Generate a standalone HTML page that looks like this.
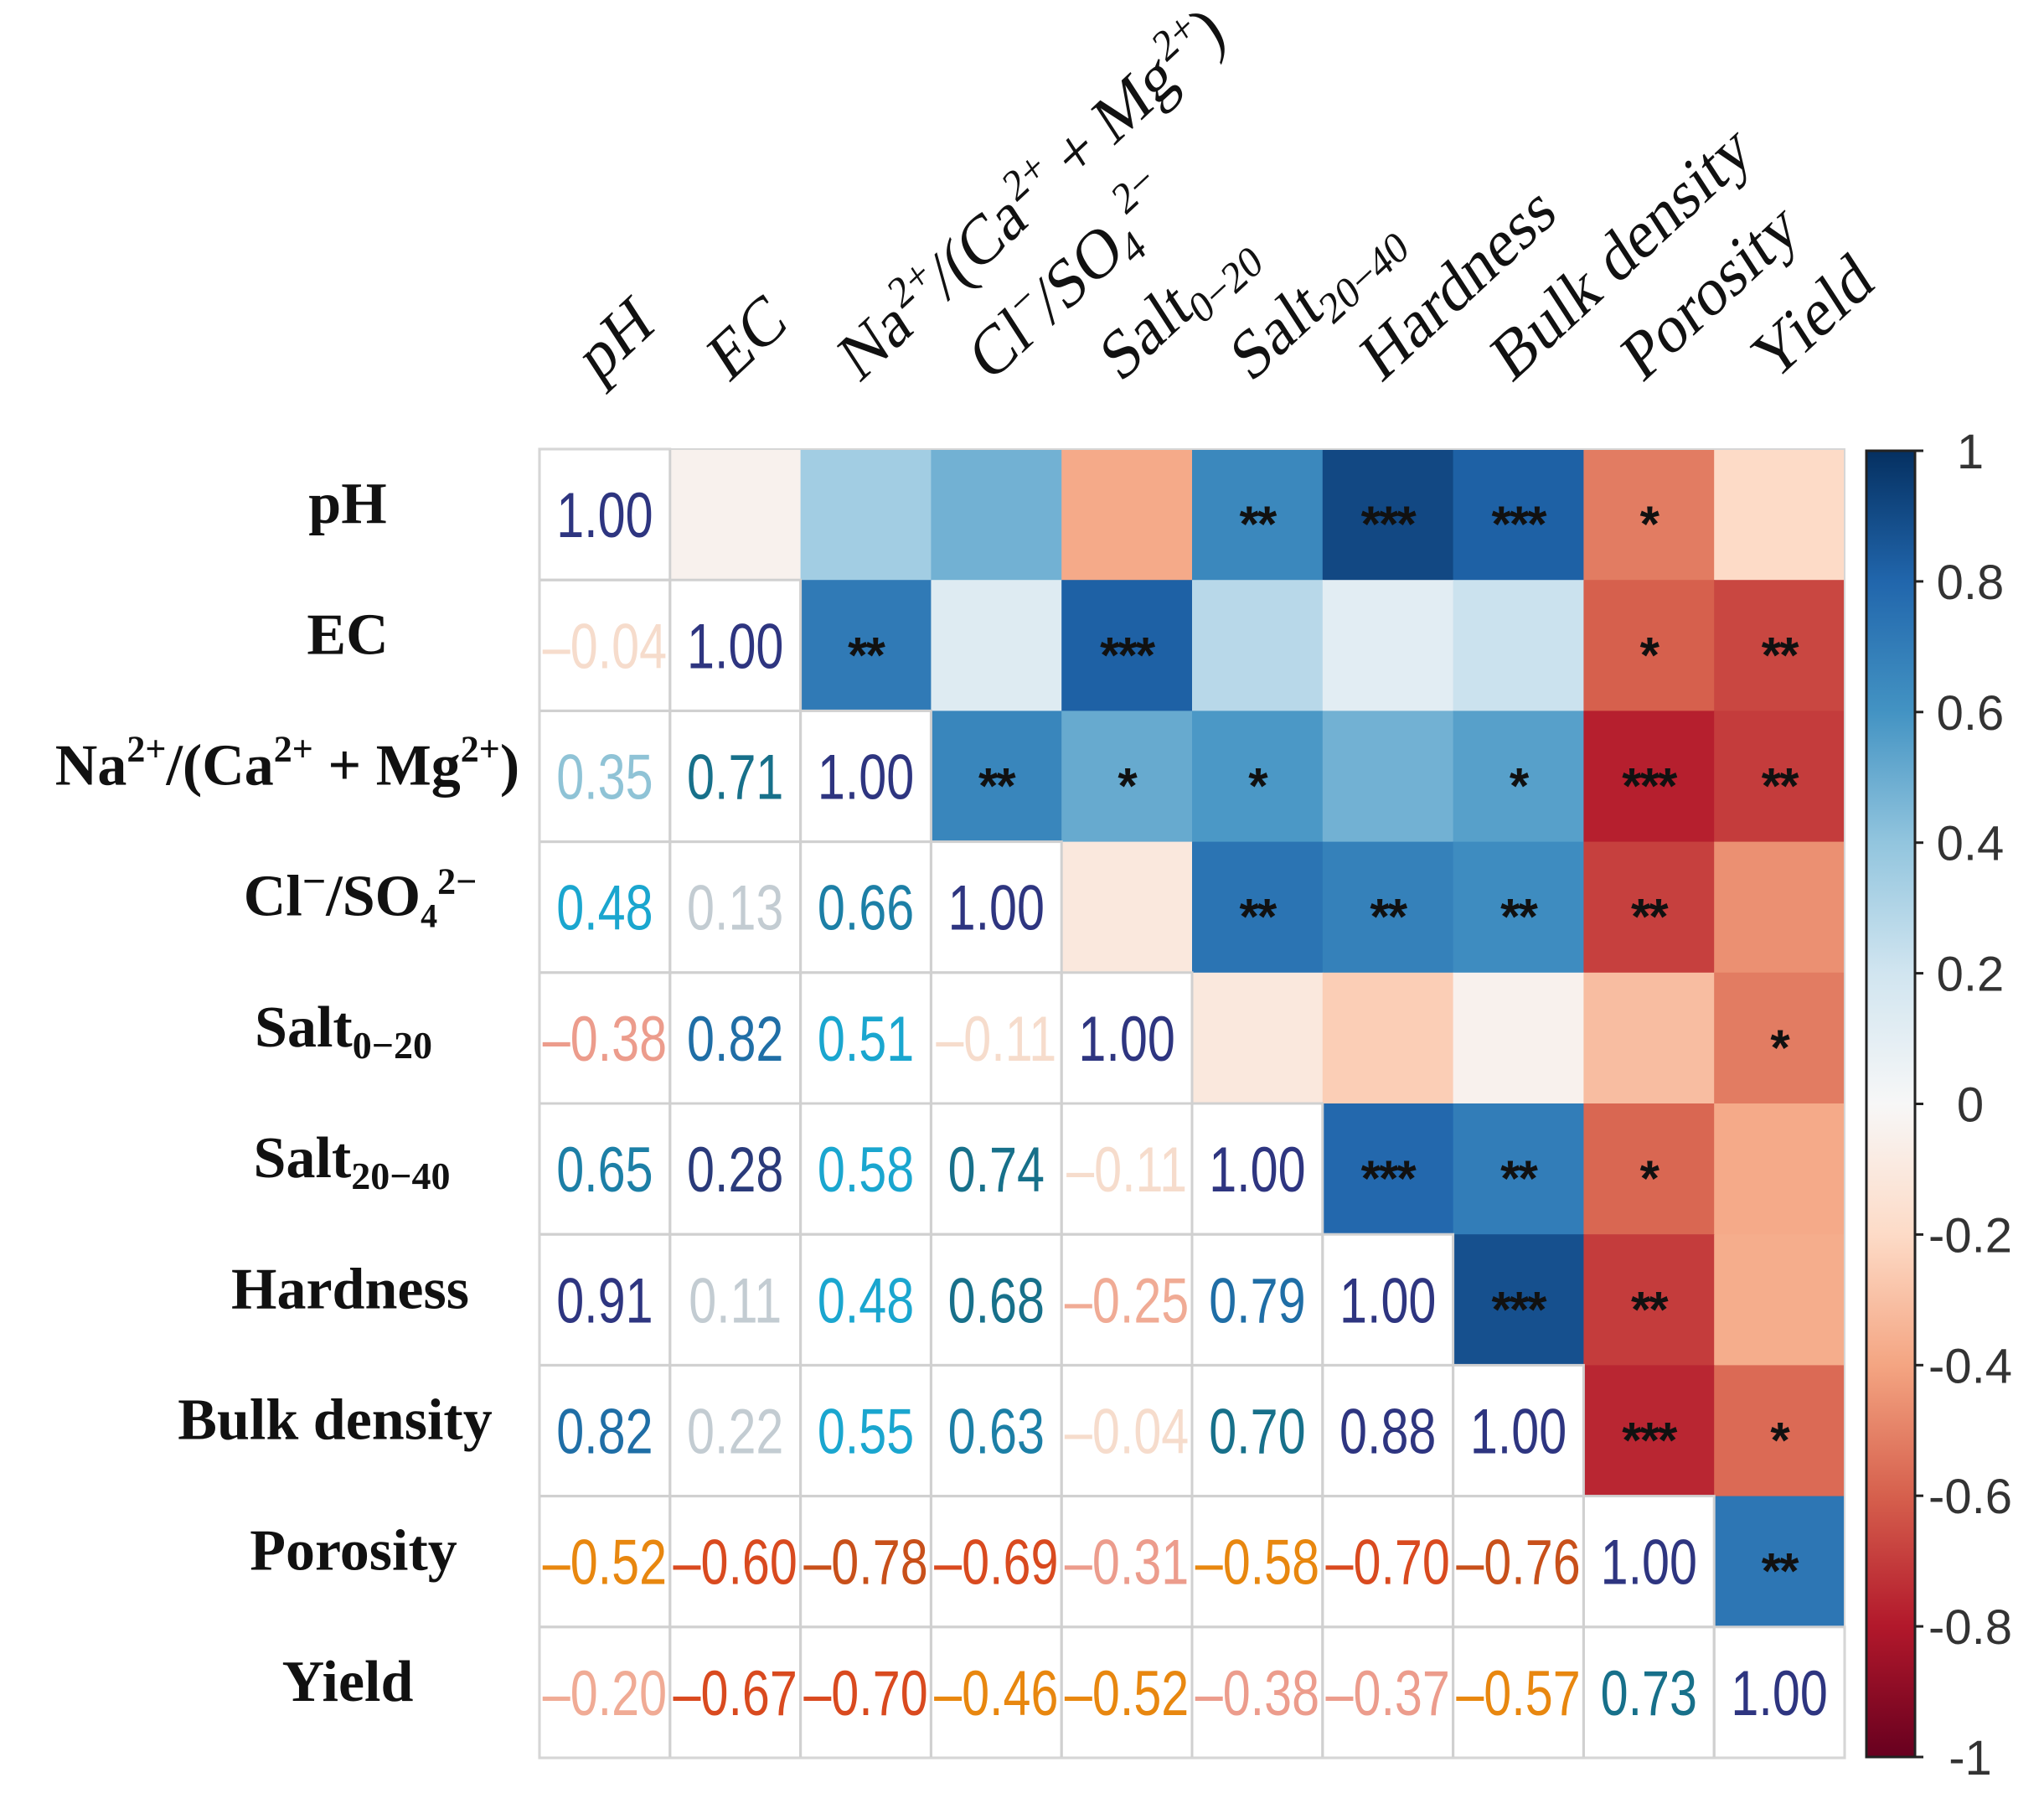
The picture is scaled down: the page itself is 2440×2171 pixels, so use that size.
<!DOCTYPE html>
<html><head><meta charset="utf-8">
<style>
html,body{margin:0;padding:0;background:#fff;}
svg{display:block;}
</style></head>
<body>
<svg id="chart" width="2440" height="2171" viewBox="0 0 2440 2171" xmlns="http://www.w3.org/2000/svg">
<g id="cells"></g>
<g id="grid"></g>
<g id="texts"></g>
<g id="rowlabels"></g>
<g id="collabels"></g>
<g id="cbar"></g>
</svg>
<script>
const variables = ["pH","EC","Na","Cl","Salt0","Salt20","Hardness","Bulk","Porosity","Yield"];
// lower-triangle correlations, row i has i values
const corrLower = [
  [],
  [-0.04],
  [0.35,0.71],
  [0.48,0.13,0.66],
  [-0.38,0.82,0.51,-0.11],
  [0.65,0.28,0.58,0.74,-0.11],
  [0.91,0.11,0.48,0.68,-0.25,0.79],
  [0.82,0.22,0.55,0.63,-0.04,0.70,0.88],
  [-0.52,-0.60,-0.78,-0.69,-0.31,-0.58,-0.70,-0.76],
  [-0.20,-0.67,-0.70,-0.46,-0.52,-0.38,-0.37,-0.57,0.73]
];
// significance stars for upper triangle, row i, columns i+1..9
const stars = [
  ["","","","","**","***","***","*",""],
  ["**","","***","","","","*","**"],
  ["**","*","*","","*","***","**"],
  ["","**","**","**","**",""],
  ["","","","","*"],
  ["***","**","*",""],
  ["***","**",""],
  ["***","*"],
  ["**"]
];
const cbarTicks = [1,0.8,0.6,0.4,0.2,0,-0.2,-0.4,-0.6,-0.8,-1];
const cbarTickLabels = ["1","0.8","0.6","0.4","0.2","0","-0.2","-0.4","-0.6","-0.8","-1"];

const NS = "http://www.w3.org/2000/svg";
const X0 = 644, Y0 = 536, CW = 155.8, CH = 156.2, N = variables.length;
const xPos = j => X0 + j*CW;
const yPos = i => Y0 + i*CH;
function mk(tag, attrs, parent){ const e=document.createElementNS(NS,tag); for(const k in attrs) e.setAttribute(k,attrs[k]); parent.appendChild(e); return e; }
function corr(i,j){ if(i===j) return 1; return i>j ? corrLower[i][j] : corrLower[j][i]; }

const rdbu = [[-1,[103,0,31]],[-0.8,[178,24,43]],[-0.6,[214,96,77]],[-0.4,[244,165,130]],[-0.2,[253,219,199]],[0,[247,247,247]],[0.2,[209,229,240]],[0.4,[146,197,222]],[0.6,[67,147,195]],[0.8,[33,102,172]],[1,[5,48,97]]];
function color(v){
  for(let k=0;k<rdbu.length-1;k++){
    const a=rdbu[k], b=rdbu[k+1];
    if(v>=a[0] && v<=b[0]){ const t=(v-a[0])/(b[0]-a[0]); const c=a[1].map((x,q)=>Math.round(x+(b[1][q]-x)*t)); return `rgb(${c[0]},${c[1]},${c[2]})`; }
  }
  return v<0?"rgb(103,0,31)":"rgb(5,48,97)";
}
function textColor(v){
  if(v>=0.85) return "#2e3580";
  if(v>=0.75) return "#1f6ea6";
  if(v>=0.68) return "#17708a";
  if(v>=0.6) return "#1c7fa6";
  if(v>=0.45) return "#1aa6cf";
  if(v>=0.3) return "#8fc3d6";
  if(v>=0.25) return "#2a3a7a";
  if(v>=0) return "#c3ccd2";
  if(v>-0.15) return "#f6dccc";
  if(v>-0.3) return "#f0ab95";
  if(v>-0.45) return "#ec9c8c";
  if(v>-0.6) return "#e8870f";
  if(v>-0.75) return "#d94a1f";
  return "#c8501a";
}

const gCells=document.getElementById("cells"), gGrid=document.getElementById("grid"), gText=document.getElementById("texts");
for(let i=0;i<N;i++){
  for(let j=0;j<N;j++){
    const v=corr(i,j);
    if(j>i){
      const r=mk("rect",{x:xPos(j),y:yPos(i),width:CW+0.8,height:CH+0.8,fill:color(v)},gCells);
      
      
      const s=stars[i][j-i-1];
      if(s){
        const t=mk("text",{x:xPos(j)+CW/2,y:yPos(i)+CH/2+32,"text-anchor":"middle","font-family":"Liberation Sans, sans-serif","font-size":"60","font-weight":"bold",fill:"#111","letter-spacing":"-2"},gText);
        t.textContent=s;
        
        
      }
    }
  }
}
for(let i=0;i<N;i++){
  for(let j=0;j<=i;j++){
    const r=mk("rect",{x:xPos(j),y:yPos(i),width:CW,height:CH,fill:"none",stroke:"#d0d0d0","stroke-width":"3"},gGrid);
    
    
    const v=corr(i,j);
    const g=mk("g",{transform:`translate(${xPos(j)+CW/2},${yPos(i)+CH/2+27}) scale(0.78,1)`},gText);
    const t=mk("text",{x:0,y:0,"text-anchor":"middle","font-family":"Liberation Sans, sans-serif","font-size":"76",fill:textColor(v)},g);
    t.textContent=(v<0?"\u2013":"")+Math.abs(v).toFixed(2);
    
    
  }
}
mk("rect",{x:X0,y:Y0,width:N*CW,height:N*CH,fill:"none",stroke:"#d6d6d6","stroke-width":"2"},gGrid);

const gRow=document.getElementById("rowlabels");
const rowLabelHTML=[
  ["pH",415],["EC",415],
  ['Na<tspan font-size="44" dy="-28">2+</tspan><tspan dy="28">/(Ca</tspan><tspan font-size="44" dy="-28">2+</tspan><tspan dy="28"> + Mg</tspan><tspan font-size="44" dy="-28">2+</tspan><tspan dy="28">)</tspan>',343],
  ['Cl<tspan font-size="50" dy="-24">\u2212</tspan><tspan dy="24">/SO</tspan><tspan font-size="40" dy="14">4</tspan><tspan font-size="44" dy="-40">2\u2212</tspan>',430],
  ['Salt<tspan font-size="46" dy="14">0\u221220</tspan>',410],
  ['Salt<tspan font-size="46" dy="14">20\u221240</tspan>',420],
  ["Hardness",418],["Bulk density",400],["Porosity",422],["Yield",415]
];
rowLabelHTML.forEach((d,i)=>{
  const t=mk("text",{x:d[1],y:yPos(i)+CH/2+10,"text-anchor":"middle","font-family":"Liberation Serif, serif","font-size":"70","font-weight":"bold",fill:"#111"},gRow);
  t.innerHTML=d[0];
  
  
});

const gCol=document.getElementById("collabels");
const colLabelHTML=[
  "pH","EC",
  'Na<tspan font-size="50" dy="-30">2+</tspan><tspan dy="30">/(Ca</tspan><tspan font-size="50" dy="-30">2+</tspan><tspan dy="30"> + Mg</tspan><tspan font-size="50" dy="-30">2+</tspan><tspan dy="30">)</tspan>',
  'Cl<tspan font-size="50" dy="-30">\u2212</tspan><tspan dy="30">/SO</tspan><tspan font-size="50" dy="14">4</tspan><tspan font-size="50" dy="-50">2\u2212</tspan>',
  'Salt<tspan font-size="50" dy="16">0\u221220</tspan>',
  'Salt<tspan font-size="50" dy="16">20\u221240</tspan>',
  "Hardness","Bulk density","Porosity","Yield"
];
colLabelHTML.forEach((h,j)=>{
  const cx=xPos(j)+CW/2-8, cy=458;
  const t=mk("text",{x:0,y:0,transform:`translate(${cx},${cy}) rotate(-43) skewX(-10)`,"font-family":"Liberation Serif, serif","font-size":"78",fill:"#111"},gCol);
  t.innerHTML=h;
  
  
});

const gC=document.getElementById("cbar");
const CB_X=2228, CB_W=58, CB_T=538, CB_B=2097;
const cbY = v => CB_T + (1-v)/2*(CB_B-CB_T);
const defs=mk("defs",{},gC);
const grad=mk("linearGradient",{id:"cbgrad",x1:"0",y1:"0",x2:"0",y2:"1"},defs);
for(let k=rdbu.length-1;k>=0;k--){
  mk("stop",{offset:((1-rdbu[k][0])/2).toFixed(3),"stop-color":`rgb(${rdbu[k][1].join(",")})`},grad);
}
const cr=mk("rect",{x:CB_X,y:CB_T,width:CB_W,height:CB_B-CB_T,fill:"url(#cbgrad)",stroke:"#222","stroke-width":"3"},gC);


cbarTicks.forEach((v,k)=>{
  const y=cbY(v);
  mk("line",{x1:CB_X+CB_W,x2:CB_X+CB_W+10,y1:y,y2:y,stroke:"#222","stroke-width":"3"},gC);
  const t=mk("text",{x:2352,y:y+21,"text-anchor":"middle","font-family":"Liberation Sans, sans-serif","font-size":"58",fill:"#333"},gC);
  t.textContent=cbarTickLabels[k];
  
  
});
</script>
</body></html>
